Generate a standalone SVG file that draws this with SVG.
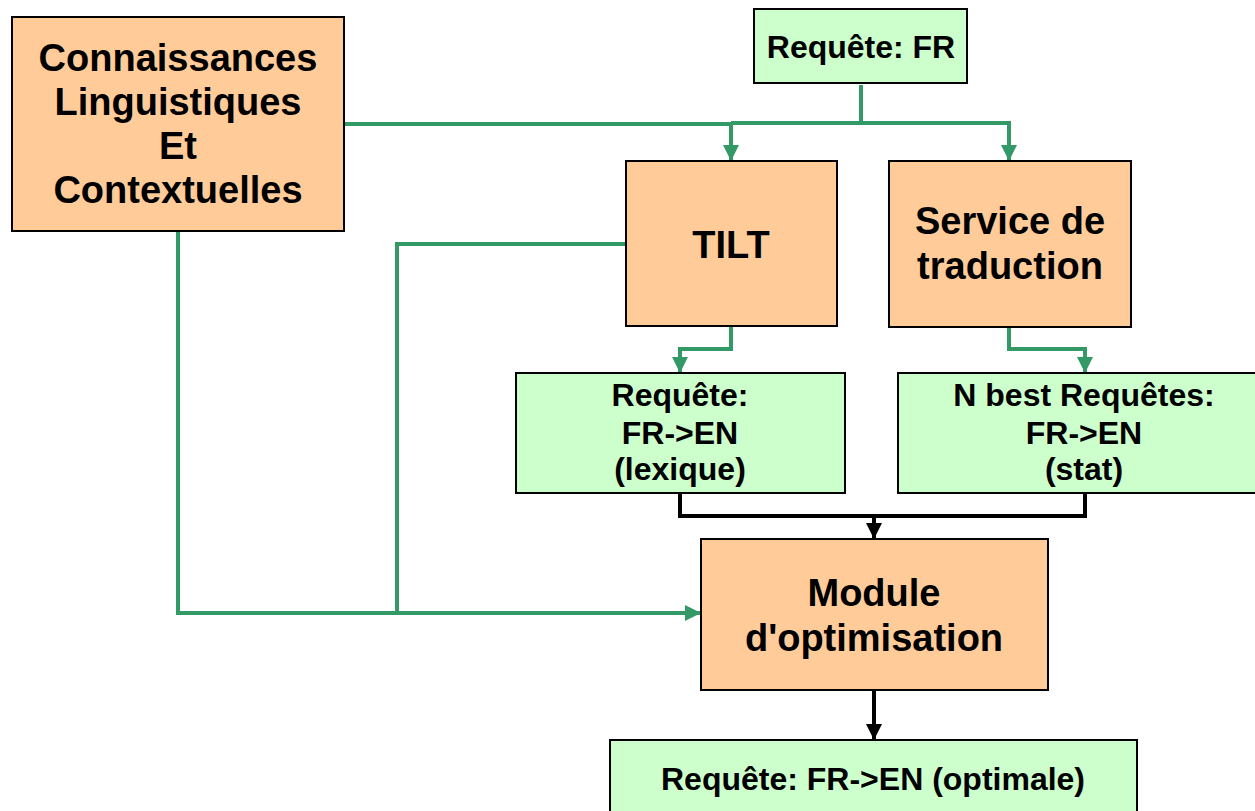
<svg xmlns="http://www.w3.org/2000/svg" width="1255" height="811" viewBox="0 0 1255 811">
  <style>
    .orange { fill: #FFCC99; stroke: #000; stroke-width: 2; }
    .green { fill: #CCFFCC; stroke: #000; stroke-width: 2; }
    .big { font-family: "Liberation Sans", Arial, sans-serif; font-weight: bold; font-size: 38px; fill: #000; text-anchor: middle; }
    .small { font-family: "Liberation Sans", Arial, sans-serif; font-weight: bold; font-size: 32px; fill: #000; text-anchor: middle; }
    .gline { fill: none; stroke: #339966; stroke-width: 4; }
    .bline { fill: none; stroke: #000; stroke-width: 4; }
  </style>
  <defs>
    <marker id="arrG" markerUnits="userSpaceOnUse" markerWidth="16" markerHeight="16" viewBox="0 0 16 16" refX="16" refY="8" orient="auto">
      <path d="M0,0 L16,8 L0,16 Z" fill="#339966"/>
    </marker>
    <marker id="arrB" markerUnits="userSpaceOnUse" markerWidth="16" markerHeight="16" viewBox="0 0 16 16" refX="16" refY="8" orient="auto">
      <path d="M0,0 L16,8 L0,16 Z" fill="#000"/>
    </marker>
  </defs>

  <rect width="1255" height="811" fill="#fff"/>

  <g id="connectors">
    <!-- query fans out to TILT and translation service -->
    <path class="gline" d="M861,85 V123"/>
    <path class="gline" d="M344,124 H731 V161" marker-end="url(#arrG)"/>
    <path class="gline" d="M731,123 H1009 V161" marker-end="url(#arrG)"/>
    <!-- knowledge and TILT feed the optimisation module -->
    <path class="gline" d="M626,244 H397 V613"/>
    <path class="gline" d="M178,231 V613 H701" marker-end="url(#arrG)"/>
    <!-- translation outputs -->
    <path class="gline" d="M731,326 V349 H680 V373" marker-end="url(#arrG)"/>
    <path class="gline" d="M1009,327 V349 H1085 V373" marker-end="url(#arrG)"/>
    <!-- merge into optimisation -->
    <path class="bline" d="M680,493 V516 H1085 V493"/>
    <path class="bline" d="M874,516 V539" marker-end="url(#arrB)"/>
    <path class="bline" d="M874,690 V740" marker-end="url(#arrB)"/>
  </g>

  <g id="connaissances">
    <rect class="orange" x="12" y="17" width="332" height="214"/>
    <text class="big" x="178" y="71">Connaissances</text>
    <text class="big" x="178" y="115">Linguistiques</text>
    <text class="big" x="178" y="159">Et</text>
    <text class="big" x="178" y="203">Contextuelles</text>
  </g>

  <g id="requete-fr">
    <rect class="green" x="754" y="9" width="213" height="74"/>
    <text class="small" x="861" y="58">Requête: FR</text>
  </g>

  <g id="tilt">
    <rect class="orange" x="626" y="161" width="211" height="165"/>
    <text class="big" x="731" y="258">TILT</text>
  </g>

  <g id="service">
    <rect class="orange" x="889" y="161" width="242" height="166"/>
    <text class="big" x="1010" y="234">Service de</text>
    <text class="big" x="1010" y="279">traduction</text>
  </g>

  <g id="requete-lexique">
    <rect class="green" x="516" y="373" width="329" height="120"/>
    <text class="small" x="680" y="406">Requête:</text>
    <text class="small" x="680" y="444">FR-&gt;EN</text>
    <text class="small" x="680" y="480">(lexique)</text>
  </g>

  <g id="requete-stat">
    <rect class="green" x="898" y="373" width="372" height="120"/>
    <text class="small" x="1084" y="406">N best Requêtes:</text>
    <text class="small" x="1084" y="444">FR-&gt;EN</text>
    <text class="small" x="1084" y="480">(stat)</text>
  </g>

  <g id="module">
    <rect class="orange" x="701" y="539" width="347" height="151"/>
    <text class="big" x="874" y="606">Module</text>
    <text class="big" x="874" y="651">d'optimisation</text>
  </g>

  <g id="requete-optimale">
    <rect class="green" x="610" y="740" width="527" height="90"/>
    <text class="small" x="873" y="790">Requête: FR-&gt;EN (optimale)</text>
  </g>
</svg>
